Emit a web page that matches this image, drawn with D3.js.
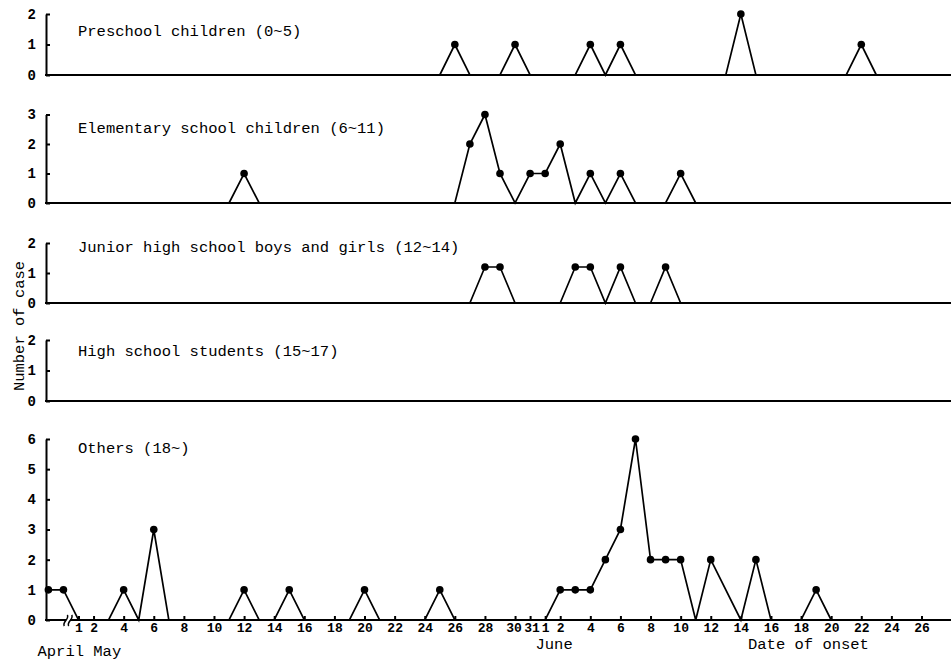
<!DOCTYPE html>
<html><head><meta charset="utf-8">
<script src="https://cdn.jsdelivr.net/npm/d3@7"></script>
<style>body{margin:0;background:#fff}</style>
</head><body>
<svg id="c" width="951" height="660"></svg>
<script>
// ---------- data ----------
const panelTitles = [
  "Preschool children (0~5)",
  "Elementary school children (6~11)",
  "Junior high school boys and girls (12~14)",
  "High school students (15~17)",
  "Others (18~)"
];
const panelMax = [2, 3, 2, 2, 6];

const preschoolDates = ["5/25","5/26","5/27","5/29","5/30","5/31","6/3","6/4","6/5","6/6","6/7","6/13","6/14","6/15","6/21","6/22","6/23"];
const preschoolCases = [0,1,0,0,1,0,0,1,0,1,0,0,2,0,0,1,0];

const elementaryDates = ["5/11","5/12","5/13","5/26","5/27","5/28","5/29","5/30","5/31","6/1","6/2","6/3","6/4","6/5","6/6","6/7","6/9","6/10","6/11"];
const elementaryCases = [0,1,0,0,2,3,1,0,1,1,2,0,1,0,1,0,0,1,0];

const juniorDates = ["5/27","5/28","5/29","5/30","6/2","6/3","6/4","6/5","6/6","6/7","6/8","6/9","6/10"];
const juniorCases = [0,1.2,1.2,0,0,1.2,1.2,0,1.2,0,0,1.2,0];

const highDates = [];
const highCases = [];

const othersDates = ["4/29","4/30","5/1","5/3","5/4","5/5","5/6","5/7","5/11","5/12","5/13","5/14","5/15","5/16","5/19","5/20","5/21","5/24","5/25","5/26",
  "6/1","6/2","6/3","6/4","6/5","6/6","6/7","6/8","6/9","6/10","6/11","6/12","6/14","6/15","6/16","6/18","6/19","6/20"];
const othersCases = [1,1,0,0,1,0,3,0,0,1,0,0,1,0,0,1,0,0,1,0,
  0,1,1,1,2,3,6,2,2,2,0,2,0,2,0,0,1,0];

const mayTickLabels = ["1","2","4","6","8","10","12","14","16","18","20","22","24","26","28","30","31"];
const juneTickLabels = ["1","2","4","6","8","10","12","14","16","18","20","22","24","26"];

// ---------- helpers ----------
function dayIndex(s) {
  const [m, d] = s.split("/").map(Number);
  if (m === 4) return d - 30;
  if (m === 5) return d;
  return 31 + d;
}

const svg = d3.select("#c");
svg.append("rect").attr("width", 951).attr("height", 660).attr("fill", "#fff");

const x = d3.scaleLinear().domain([1, 57]).range([78.5, 921.5]);
const axisX = 46;
const rightEnd = 951;

const layouts = [
  {base: 75, top: 14},
  {base: 203, top: 114.5},
  {base: 303, top: 243},
  {base: 401, top: 340},
  {base: 620, top: 439}
];
const titleBaselines = [35.5, 132.5, 251.5, 356, 452.5];

const series = [
  [preschoolDates, preschoolCases],
  [elementaryDates, elementaryCases],
  [juniorDates, juniorCases],
  [highDates, highCases],
  [othersDates, othersCases]
];

const monoFont = "'Liberation Mono', 'DejaVu Sans Mono', monospace";

series.forEach(([dates, cases], i) => {
  const L = layouts[i];
  const y = d3.scaleLinear().domain([0, panelMax[i]]).range([L.base, L.top]);
  const g = svg.append("g");

  // y axis
  const ya = g.append("g").attr("transform", `translate(${axisX},0)`)
    .call(d3.axisLeft(y).tickValues(d3.range(0, panelMax[i] + 1)).tickFormat(d3.format("d")).tickSize(-4).tickSizeOuter(0).tickPadding(10));
  ya.select(".domain").attr("stroke", "#000").attr("stroke-width", 2);
  ya.selectAll(".tick line").attr("stroke", "#000").attr("stroke-width", 2);
  ya.selectAll(".tick text").attr("font-family", monoFont).attr("font-size", 14).attr("font-weight", "bold").attr("fill", "#000");

  // baseline
  g.append("line").attr("x1", axisX - 1).attr("x2", rightEnd)
    .attr("y1", y(0)).attr("y2", y(0)).attr("stroke", "#000").attr("stroke-width", 2.2);

  // title
  g.append("text").attr("x", 78).attr("y", titleBaselines[i])
    .attr("font-family", monoFont).attr("font-size", 15.5).attr("fill", "#000")
    .text(panelTitles[i]);

  const pts = dates.map((d, k) => ({d: dayIndex(d), v: cases[k]}));
  if (pts.length) {
    const line = d3.line().x(p => x(p.d)).y(p => y(p.v));
    g.append("path").datum(pts).attr("d", line)
      .attr("fill", "none").attr("stroke", "#000").attr("stroke-width", 1.7).attr("stroke-linejoin", "miter");
    g.selectAll("circle").data(pts.filter(p => p.v > 0)).join("circle")
      .attr("cx", p => x(p.d)).attr("cy", p => y(p.v)).attr("r", 3.8).attr("fill", "#000");
  }

  if (i === 4) {
    // x axis ticks & labels
    const tickDays = mayTickLabels.map(Number).concat(juneTickLabels.map(t => 31 + Number(t)));
    const tickText = mayTickLabels.concat(juneTickLabels);
    const xa = g.append("g").attr("transform", `translate(0,${y(0)})`)
      .call(d3.axisBottom(x).tickValues(tickDays).tickFormat((d, k) => tickText[k]).tickSize(-4).tickPadding(3));
    xa.select(".domain").remove();
    xa.selectAll(".tick line").attr("stroke", "#000").attr("stroke-width", 2);
    xa.selectAll(".tick text").attr("font-family", monoFont).attr("font-size", 13).attr("font-weight", "bold")
      .attr("fill", "#000").attr("dy", "0.71em")
      .attr("dx", (d, k) => k === 15 ? -1.5 : (k === 16 ? 1.5 : 0));

    // axis break mark
    const bx = 68, by = y(0);
    g.append("rect").attr("x", bx - 2).attr("y", by - 2).attr("width", 4).attr("height", 4).attr("fill", "#fff");
    [-2.2, 2.2].forEach(o => {
      g.append("path")
        .attr("d", `M${bx + o - 1.5},${by + 6} C${bx + o - 4},${by + 2} ${bx + o + 4},${by - 1} ${bx + o + 1.5},${by - 5}`)
        .attr("fill", "none").attr("stroke", "#000").attr("stroke-width", 1.5);
    });
  }
});

// axis annotations
svg.append("text").attr("x", 37.5).attr("y", 655.5).attr("font-family", monoFont).attr("font-size", 15.5).text("April May");
svg.append("text").attr("x", 535.5).attr("y", 648.5).attr("font-family", monoFont).attr("font-size", 15.5).text("June");
svg.append("text").attr("x", 748).attr("y", 648.5).attr("font-family", monoFont).attr("font-size", 15.5).text("Date of onset");

svg.append("text").attr("transform", "translate(23.5,326) rotate(-90)")
  .attr("text-anchor", "middle").attr("font-family", monoFont).attr("font-size", 15.5).text("Number of case");
</script>
</body></html>
